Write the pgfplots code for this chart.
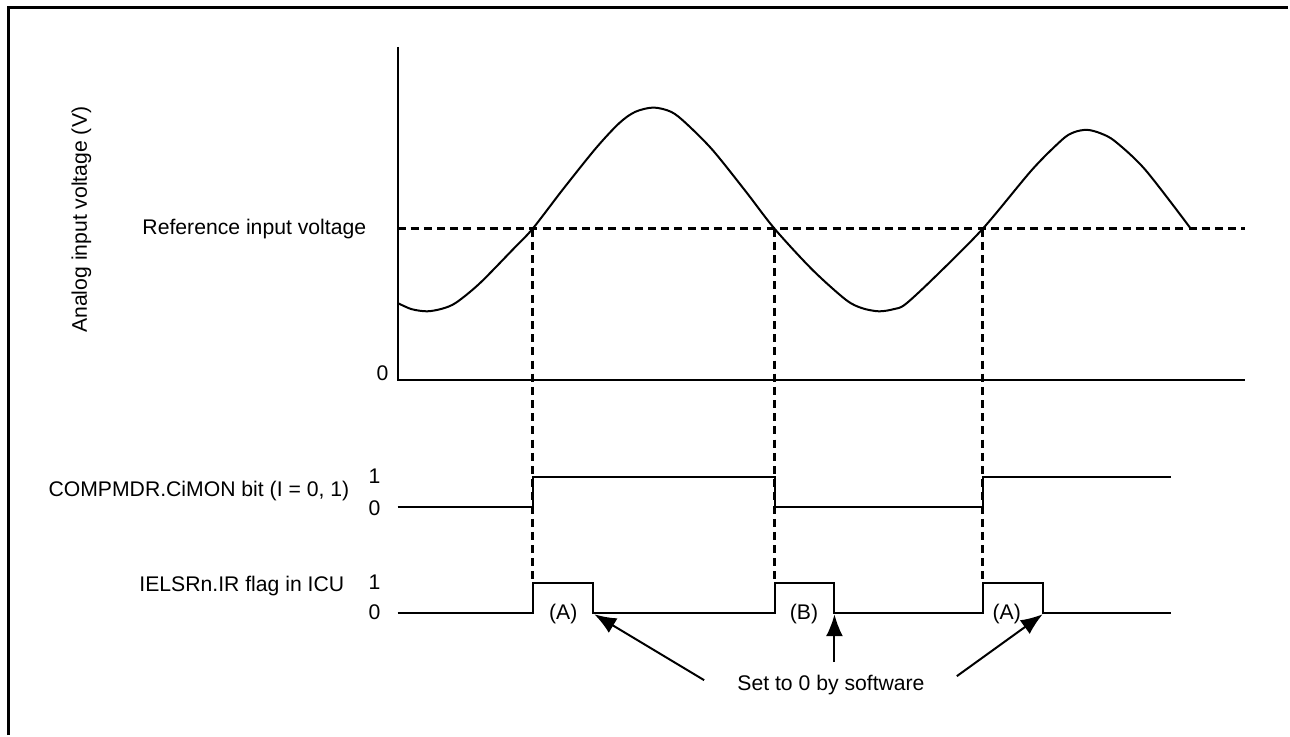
\documentclass[border=0pt]{standalone}
\usepackage{pgfplots}
\pgfplotsset{compat=1.18}
\usepackage{fontspec}
\setmainfont{Liberation Sans}
\usetikzlibrary{arrows.meta}
\tikzset{
  sl/.style={black, solid, mark=none, line width=1pt},
  dsh/.style={black, mark=none, line width=1.4pt, dash pattern=on 4pt off 2.6pt},
  lbl/.style={font=\fontsize{10.6pt}{12pt}\selectfont, inner sep=0pt},
  arr/.style={sl, -{Latex[length=11pt,width=8.5pt]}},
}
\begin{document}
\begin{tikzpicture}
\begin{axis}[
  scale only axis, width=645pt, height=368pt,
  xmin=0, xmax=1290, ymin=0, ymax=736, y dir=reverse,
  hide axis, clip=false,
]
% invisible extent
\addplot[draw=none, mark=none] coordinates {(0,0) (1290,736)};
% frame (top and left)
\addplot[sl, line width=1.6pt] coordinates {(8.5,736) (8.5,7.5) (1290,7.5)};
% voltage axes
\addplot[sl] coordinates {(398,47) (398,380) (1247,380)};
% reference line
\addplot[dsh] coordinates {(398,229) (1247,229)};
% analog input
\addplot[sl, smooth] coordinates {
(398,303.3) (412,309.5) (427.7,311.7) (443,309) (456.7,303) (480,284) (513.3,250) (533.3,229)
(563.3,190) (596.7,148.3) (620,123.3) (636,112) (654.3,107.7) (672,112) (686.7,123.3) (713.3,150)
(746.7,191.7) (775.5,229) (813.3,270) (846.7,300) (863,308.5) (880,311.7) (895,309.5) (906.7,304.5)
(936.7,276.7) (984,229) (1033.3,170) (1063.3,140) (1075,132.5) (1088.3,130) (1102,133.5) (1116.7,141.7)
(1146.7,170) (1192.3,229)};
% vertical dashed lines
\addplot[dsh] coordinates {(533.3,229) (533.3,584)};
\addplot[dsh] coordinates {(775.5,229) (775.5,584)};
\addplot[dsh] coordinates {(984,229) (984,584)};
% COMPMDR.CiMON signal
\addplot[sl] coordinates {(398,508) (533.3,508) (533.3,478) (775.5,478) (775.5,508) (984,508) (984,478) (1172,478)};
% IR flag signal
\addplot[sl] coordinates {(398,614) (533.3,614) (533.3,584) (594,584) (594,614) (775.5,614) (775.5,584) (835,584) (835,614)
(984,614) (984,584) (1044,584) (1044,614) (1172,614)};
% arrows
\addplot[arr] coordinates {(705,681) (595,615)};
\addplot[arr] coordinates {(835.5,663) (835.5,615)};
\addplot[arr] coordinates {(958,677) (1044,615)};
% texts
\node[lbl, rotate=90] at (axis cs:81.5,220) {Analog input voltage (V)};
\node[lbl, anchor=east] at (axis cs:367,229) {Reference input voltage};
\node[lbl] at (axis cs:383,374) {0};
\node[lbl, anchor=east] at (axis cs:350,492) {COMPMDR.CiMON bit (I = 0, 1)};
\node[lbl] at (axis cs:375,477) {1};
\node[lbl] at (axis cs:375,509) {0};
\node[lbl, anchor=east] at (axis cs:345,587) {IELSRn.IR flag in ICU};
\node[lbl] at (axis cs:375,583) {1};
\node[lbl] at (axis cs:375,613) {0};
\node[lbl] at (axis cs:564,615) {(A)};
\node[lbl] at (axis cs:805,615) {(B)};
\node[lbl] at (axis cs:1008,615) {(A)};
\node[lbl] at (axis cs:832,686) {Set to 0 by software};
\end{axis}
\end{tikzpicture}
\end{document}
